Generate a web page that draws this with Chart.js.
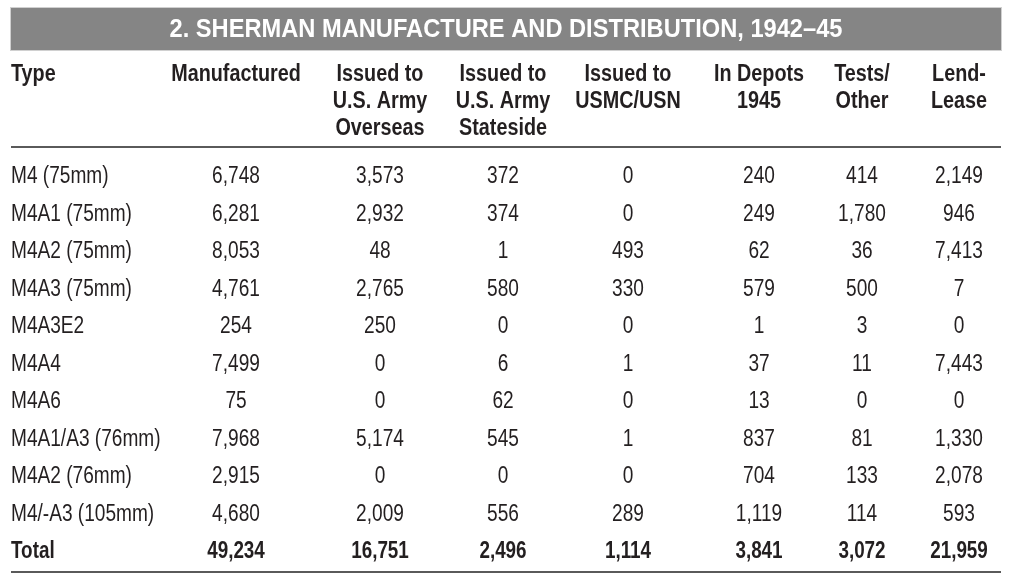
<!DOCTYPE html>
<html>
<head>
<meta charset="utf-8">
<script src="https://cdn.jsdelivr.net/npm/chart.js@4/dist/chart.umd.min.js"></script>
<style>
  html, body { margin: 0; padding: 0; background: #ffffff; }
  #wrap { width: 1012px; height: 582px; }
</style>
</head>
<body>
<div id="wrap"><canvas id="c" width="1012" height="582"></canvas></div>
<script>
// ---------- DATA ----------
const titleText = "2. SHERMAN MANUFACTURE AND DISTRIBUTION, 1942\u201345";
const types = ["M4 (75mm)", "M4A1 (75mm)", "M4A2 (75mm)", "M4A3 (75mm)", "M4A3E2", "M4A4", "M4A6",
               "M4A1/A3 (76mm)", "M4A2 (76mm)", "M4/-A3 (105mm)"];
const totalLabel = "Total";
const manufactured = [6748, 6281, 8053, 4761, 254, 7499, 75, 7968, 2915, 4680];
const overseas     = [3573, 2932, 48, 2765, 250, 0, 0, 5174, 0, 2009];
const stateside    = [372, 374, 1, 580, 0, 6, 62, 545, 0, 556];
const usmcUsn      = [0, 0, 493, 330, 0, 1, 0, 1, 0, 289];
const depots       = [240, 249, 62, 579, 1, 37, 13, 837, 704, 1119];
const testsOther   = [414, 1780, 36, 500, 3, 11, 0, 81, 133, 114];
const lendLease    = [2149, 946, 7413, 7, 0, 7443, 0, 1330, 2078, 593];
const totals       = [49234, 16751, 2496, 1114, 3841, 3072, 21959];
const typeHeader = ["Type"];
const columnHeaders = [
  ["Manufactured"],
  ["Issued to", "U.S. Army", "Overseas"],
  ["Issued to", "U.S. Army", "Stateside"],
  ["Issued to", "USMC/USN"],
  ["In Depots", "1945"],
  ["Tests/", "Other"],
  ["Lend-", "Lease"]
];
const numericSeries = [manufactured, overseas, stateside, usmcUsn, depots, testsOther, lendLease];

// ---------- LAYOUT (not data) ----------
const FONT = '"Liberation Sans", Arial, Helvetica, sans-serif';
const TEXT = '#231f20';
const colCenters = [236, 380, 503, 628, 759, 862, 959];
const typeX = 11;
const ruleLeft = 11, ruleRight = 1001;
const cellFont = '23px ' + FONT, cellSX = 0.83;
const cellBold = 'bold 23px ' + FONT, boldSX = 0.82;
const headFont = 'bold 23px ' + FONT, headSX = 0.86;
const titleFont = 'bold 26px ' + FONT, titleWidth = 673;

const rowLabels = types.concat([totalLabel]);
const fmt = v => v.toLocaleString('en-US');

const datasets = [];
datasets.push({
  label: typeHeader[0],
  header: typeHeader,
  align: 'left',
  data: rowLabels.map(r => ({ x: typeX, y: r })),
  texts: rowLabels
});
numericSeries.forEach((arr, c) => {
  const vals = arr.concat([totals[c]]);
  datasets.push({
    label: columnHeaders[c].join(' '),
    header: columnHeaders[c],
    align: 'center',
    data: rowLabels.map((r) => ({ x: colCenters[c], y: r })),
    texts: vals.map(fmt)
  });
});
datasets.forEach(d => { d.pointRadius = 0; d.pointHoverRadius = 0; d.showLine = false; });

function drawText(ctx, text, x, y, align, sx) {
  ctx.save();
  ctx.translate(x, y);
  ctx.scale(sx, 1);
  ctx.textAlign = align;
  ctx.fillText(text, 0, 0);
  ctx.restore();
}

const tablePlugin = {
  id: 'tablePlugin',
  beforeDraw(chart) {
    const ctx = chart.ctx;
    ctx.save();
    ctx.fillStyle = '#ffffff';
    ctx.fillRect(0, 0, chart.width, chart.height);
    ctx.fillStyle = '#858585';
    ctx.fillRect(11, 8, 990, 42);
    ctx.strokeStyle = '#d0d0d0';
    ctx.lineWidth = 1;
    ctx.strokeRect(10.5, 7.5, 991, 43);
    ctx.fillStyle = '#ffffff';
    ctx.font = titleFont;
    ctx.textBaseline = 'middle';
    const w = ctx.measureText(titleText).width;
    drawText(ctx, titleText, 506, 30, 'center', titleWidth / w);
    ctx.restore();
  },
  afterDatasetsDraw(chart) {
    const ctx = chart.ctx;
    ctx.save();
    ctx.fillStyle = TEXT;
    ctx.textBaseline = 'middle';
    ctx.font = headFont;
    chart.data.datasets.forEach((ds, i) => {
      const meta = chart.getDatasetMeta(i);
      const x = meta.data[0].x;
      ds.header.forEach((line, k) => {
        drawText(ctx, line, x, 75 + k * 27, ds.align, headSX);
      });
    });
    ctx.fillStyle = '#5a5a5a';
    ctx.fillRect(ruleLeft, 146, ruleRight - ruleLeft, 2);
    ctx.fillRect(ruleLeft, 571, ruleRight - ruleLeft, 2);
    ctx.fillStyle = TEXT;
    chart.data.datasets.forEach((ds, i) => {
      const meta = chart.getDatasetMeta(i);
      meta.data.forEach((el, j) => {
        const isTotal = rowLabels[j] === totalLabel;
        ctx.font = isTotal ? cellBold : cellFont;
        drawText(ctx, ds.texts[j], el.x, el.y + 1, ds.align, isTotal ? boldSX : cellSX);
      });
    });
    ctx.restore();
  }
};

new Chart(document.getElementById('c'), {
  type: 'scatter',
  data: { datasets },
  options: {
    responsive: false,
    animation: false,
    events: [],
    layout: { padding: { top: 157.25, bottom: 12.25, left: 0, right: 0 } },
    plugins: { legend: { display: false }, title: { display: false }, tooltip: { enabled: false } },
    scales: {
      x: { type: 'linear', min: 0, max: 1012, display: false },
      y: { type: 'category', labels: rowLabels, offset: true, display: false }
    }
  },
  plugins: [tablePlugin]
});
</script>
</body>
</html>
